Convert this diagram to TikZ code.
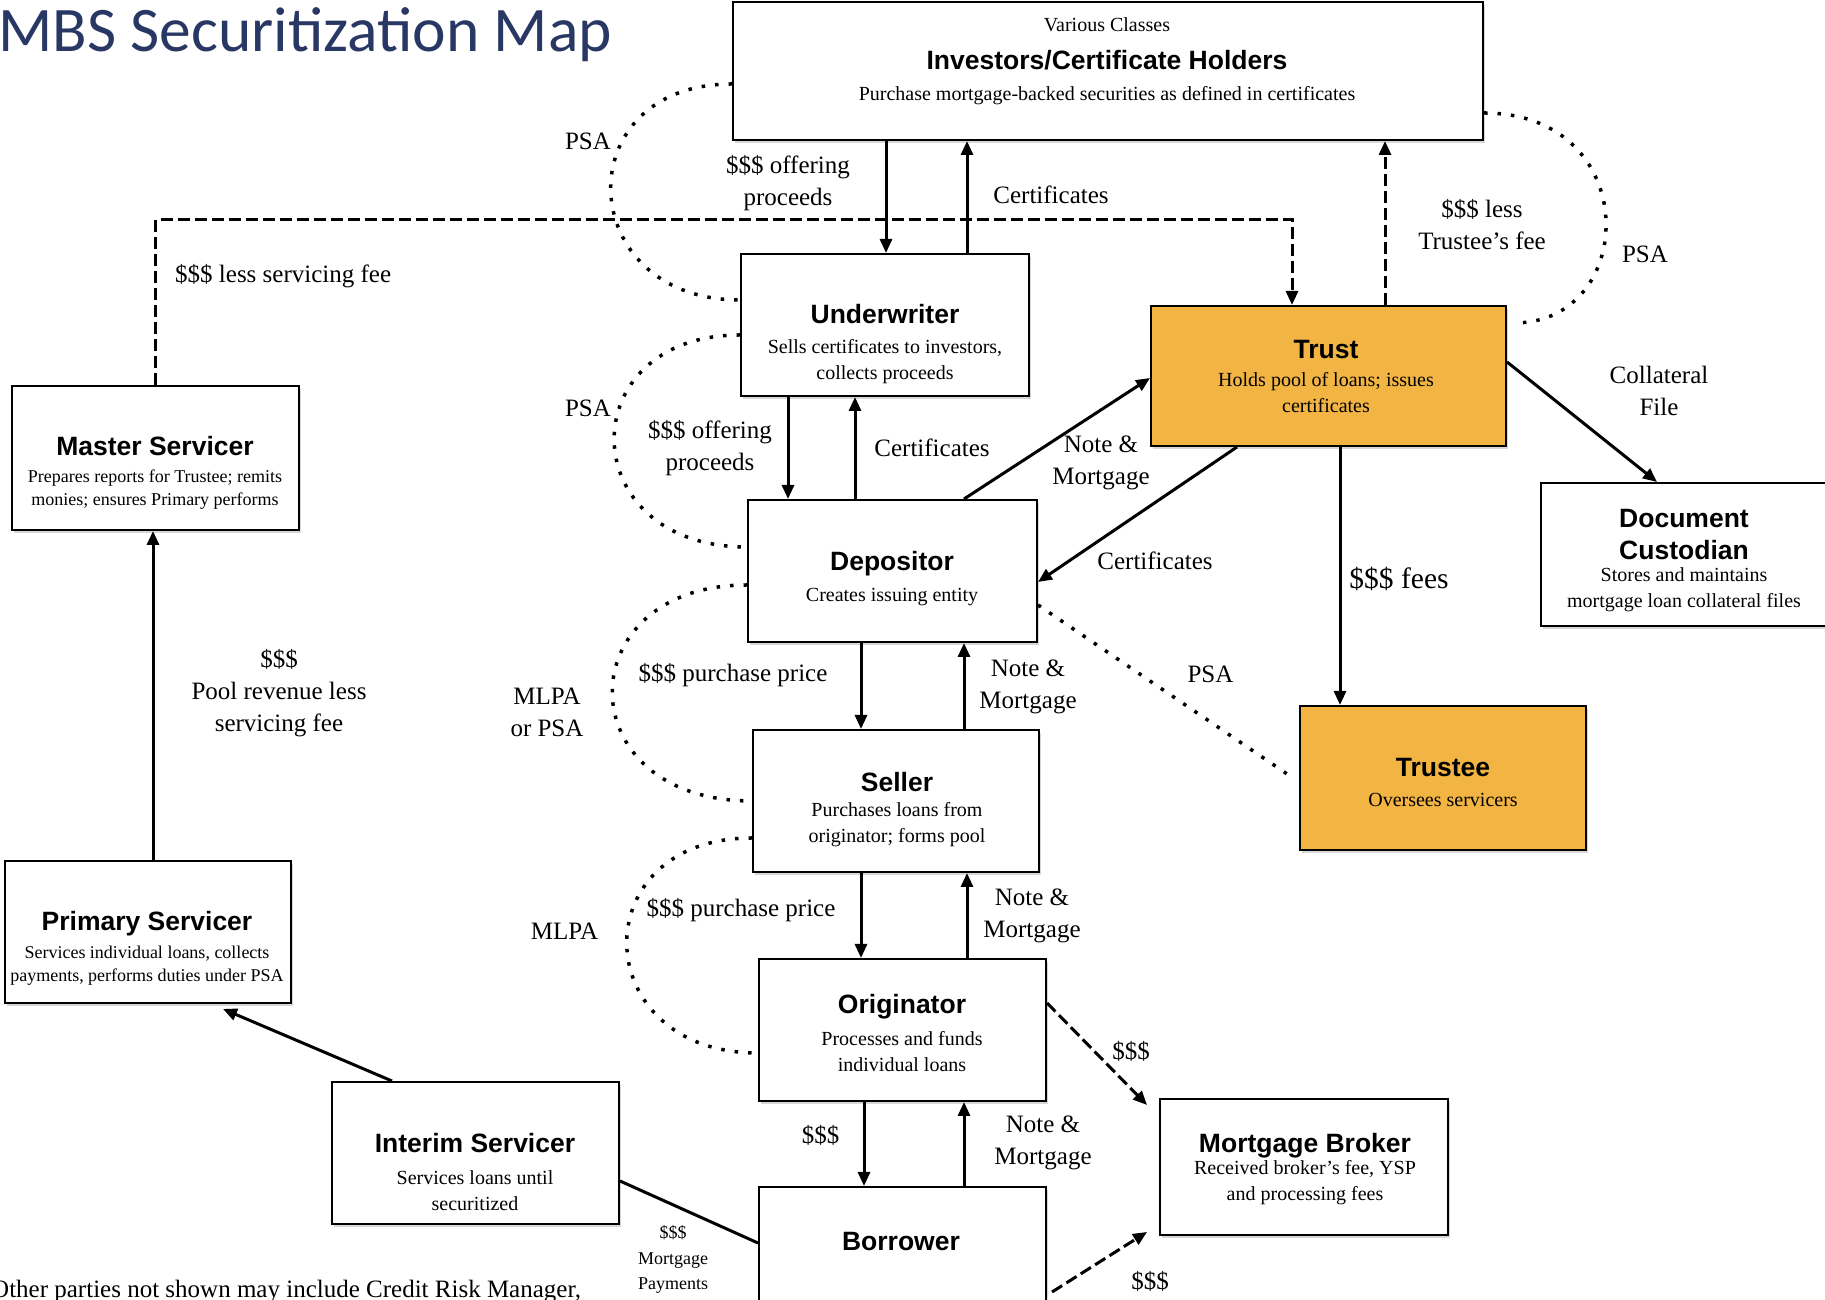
\documentclass[tikz,border=0pt]{standalone}
\usepackage{fontspec}
\setmainfont{Liberation Serif}
\newfontfamily\headfamily{Liberation Sans}
\newfontfamily\mapfamily{Carlito}
\usepackage{tikz}
\usetikzlibrary{arrows.meta}
\usetikzlibrary{shadows}

\definecolor{mapnavy}{RGB}{40,55,100}
\definecolor{poolgold}{RGB}{242,180,66}

\newcommand{\partyfont}{\headfamily\bfseries\fontsize{26.5}{32}\selectfont}
\newcommand{\notefont}{\fontsize{20}{26}\selectfont}
\newcommand{\smallnotefont}{\fontsize{18}{23.5}\selectfont}
\newcommand{\flowfont}{\fontsize{25}{32}\selectfont}
\newcommand{\bigflowfont}{\fontsize{29.5}{34}\selectfont}
\newcommand{\paymentfont}{\fontsize{18}{25.5}\selectfont}
\newcommand{\mapfont}{\mapfamily\fontsize{63.5}{70}\selectfont}

\tikzset{
    party/.style={
        rectangle, draw=black, line width=2pt, fill=white,
        drop shadow={shadow xshift=2pt, shadow yshift=-3pt, fill=black!45, opacity=.35},
    },
    pool/.style={party, fill=poolgold},
    partytext/.style={anchor=north, inner sep=0pt, align=center, font=\notefont},
    flowlabel/.style={inner sep=0pt, align=center, font=\flowfont},
    flow/.style={line width=3pt, -{Triangle[length=14pt,width=12pt]}},
    cash/.style={flow, dash pattern=on 12pt off 5pt},
    pact/.style={line width=3.5pt, dash pattern=on 3.5pt off 10pt},
}

\begin{document}
\begin{tikzpicture}[x=1pt, y=1pt]
        \useasboundingbox (0,0) rectangle (1825,1300);

        \node (inv) at(1108,1229) [
            party,
            minimum width=750pt, minimum height=138pt,
        ] {};
        \node (uw) at(885,975) [
            party,
            minimum width=288pt, minimum height=142pt,
        ] {};
        \node (trust) at(1328.5,924) [
            pool,
            minimum width=355pt, minimum height=140pt,
        ] {};
        \node (ms) at(155.5,842) [
            party,
            minimum width=287pt, minimum height=144pt,
        ] {};
        \node (dep) at(892.5,729) [
            party,
            minimum width=289pt, minimum height=142pt,
        ] {};
        \node (dc) at(1685,745.5) [
            party,
            minimum width=288pt, minimum height=143pt,
        ] {};
        \node (sel) at(896,499) [
            party,
            minimum width=286pt, minimum height=142pt,
        ] {};
        \node (trustee) at(1443,522) [
            pool,
            minimum width=286pt, minimum height=144pt,
        ] {};
        \node (ps) at(148,368) [
            party,
            minimum width=286pt, minimum height=142pt,
        ] {};
        \node (orig) at(902.5,270) [
            party,
            minimum width=287pt, minimum height=142pt,
        ] {};
        \node (is) at(475.5,147) [
            party,
            minimum width=287pt, minimum height=142pt,
        ] {};
        \node (mb) at(1304,133) [
            party,
            minimum width=288pt, minimum height=136pt,
        ] {};
        \node (bor) at(902.5,42) [
            party,
            minimum width=287pt, minimum height=142pt,
        ] {};

        \node (invtext) at(1107,1282.5) [partytext] {Various Classes\\[12pt]{\partyfont Investors/Certificate Holders}\\[5pt]Purchase mortgage-backed securities as defined in certificates};
        \node (uwtext) at(885,995.5) [partytext] {{\partyfont Underwriter}\\[4pt]Sells certificates to investors,\\collects proceeds};
        \node (trusttext) at(1326,959.5) [partytext] {{\partyfont Trust}\\[2pt]Holds pool of loans; issues\\certificates};
        \node (mstext) at(155,863.5) [partytext, font=\smallnotefont] {{\partyfont Master Servicer}\\[3pt]Prepares reports for Trustee; remits\\monies; ensures Primary performs};
        \node (deptext) at(892,748.5) [partytext] {{\partyfont Depositor}\\[5pt]Creates issuing entity};
        \node (dctext) at(1684,790.5) [partytext] {{\partyfont Document}\\[6pt]{\partyfont Custodian}\\[-4pt]Stores and maintains\\mortgage loan collateral files};
        \node (seltext) at(897,527.5) [partytext] {{\partyfont Seller}\\[-1pt]Purchases loans from\\originator; forms pool};
        \node (trusteetext) at(1443,541.5) [partytext] {{\partyfont Trustee}\\[4pt]Oversees servicers};
        \node (pstext) at(147,388.5) [partytext, font=\smallnotefont] {{\partyfont Primary Servicer}\\[4pt]Services individual loans, collects\\payments, performs duties under PSA};
        \node (origtext) at(902,305.5) [partytext] {{\partyfont Originator}\\[6pt]Processes and funds\\individual loans};
        \node (istext) at(475,166.5) [partytext] {{\partyfont Interim Servicer}\\[6pt]Services loans until\\securitized};
        \node (mbtext) at(1305,166.5) [partytext] {{\partyfont Mortgage Broker}\\[-4pt]Received broker’s fee, YSP\\and processing fees};
        \node (bortext) at(901,67.5) [partytext] {{\partyfont Borrower}};

        \node (maptitle) at(-2,1248) [anchor=base west, inner sep=0pt, font=\mapfont, text=mapnavy] {MBS Securitization Map};
        \node (othernote) at(-9,2) [anchor=base west, inner sep=0pt, font=\flowfont] {Other parties not shown may include Credit Risk Manager,};

        \draw[pact] ([yshift=-13pt]inv.west) .. controls +(-167,0) and +(-167,0) .. ([yshift=25pt]uw.west);
        \draw[pact] ([yshift=-42pt]inv.east) .. controls +(160,0) and +(125,0) .. ([xshift=7pt,yshift=-18pt]trust.north east);
        \draw[pact] ([yshift=-10pt]uw.west) .. controls +(-170,0) and +(-175,0) .. ([yshift=24pt]dep.west);
        \draw[pact] ([yshift=-14pt]dep.west) .. controls +(-180,0) and +(-186,0) .. (sel.west);
        \draw[pact] ([yshift=-37pt]sel.west) .. controls +(-171,0) and +(-171,0) .. ([yshift=-23pt]orig.west);
        \draw[pact] ([yshift=-34pt]dep.east) -- ([xshift=-6pt]trustee.west);

        \draw[flow] ([xshift=-222pt]inv.south) -- ([xshift=1pt]uw.north);
        \draw[flow] ([xshift=82pt]uw.north) -- ([xshift=-141pt]inv.south);
        \draw[cash] (ms.north) |- ([xshift=-36.5pt,yshift=85pt]trust.north) -- ([xshift=-36.5pt]trust.north);
        \draw[cash] ([xshift=56.5pt]trust.north) -- ([xshift=277pt]inv.south);
        \draw[flow] ([xshift=-97pt]uw.south) -- ([xshift=-104.5pt]dep.north);
        \draw[flow] ([xshift=-37.5pt]dep.north) -- ([xshift=-30pt]uw.south);
        \draw[flow] ([xshift=71.5pt]dep.north) -- ([yshift=-2pt]trust.west);
        \draw[flow] ([xshift=-91.5pt]trust.south) -- ([yshift=-11pt]dep.east);
        \draw[flow] ([yshift=14pt]trust.east) -- ([xshift=-28pt]dc.north);
        \draw[flow] ([xshift=11.5pt]trust.south) -- ([xshift=-103pt]trustee.north);
        \draw[flow] ([xshift=-31.5pt]dep.south) -- ([xshift=-35pt]sel.north);
        \draw[flow] ([xshift=68pt]sel.north) -- ([xshift=71.5pt]dep.south);
        \draw[flow] ([xshift=-35pt]sel.south) -- ([xshift=-41.5pt]orig.north);
        \draw[flow] ([xshift=64.5pt]orig.north) -- ([xshift=71pt]sel.south);
        \draw[flow] ([xshift=-38.5pt]orig.south) -- ([xshift=-38.5pt]bor.north);
        \draw[flow] ([xshift=61.5pt]bor.north) -- ([xshift=61.5pt]orig.south);
        \draw[cash] ([yshift=27pt]orig.east) -- ([xshift=-12pt,yshift=-7pt]mb.north west);
        \draw[cash] ([xshift=5pt,yshift=-34pt]bor.east) -- ([xshift=-12pt,yshift=4pt]mb.south west);
        \draw[line width=3pt] ([yshift=-28pt]is.east) -- ([yshift=15pt]bor.west);
        \draw[flow] ([xshift=-83.5pt]is.north) -- ([xshift=75pt,yshift=-5pt]ps.south);
        \draw[flow] ([xshift=5pt]ps.north) -- ([xshift=-2.5pt]ms.south);

        \node (offer1) at(788,1117) [flowlabel] {\$\$\$ offering\\proceeds};
        \node (cert1) at(1051,1105.6) [flowlabel] {Certificates};
        \node (svcfee) at(175,1024) [flowlabel, anchor=west] {\$\$\$ less servicing fee};
        \node (trfee) at(1482,1075) [flowlabel] {\$\$\$ less\\Trustee’s fee};
        \node (psa1) at(1645,1046) [flowlabel] {PSA};
        \node (psa2) at(588,1159) [flowlabel] {PSA};
        \node (offer2) at(710,852) [flowlabel] {\$\$\$ offering\\proceeds};
        \node (cert2) at(932,852) [flowlabel] {Certificates};
        \node (psa3) at(588,891.5) [flowlabel] {PSA};
        \node (note1) at(1101,837.5) [flowlabel] {Note \&\\Mortgage};
        \node (cert3) at(1155,739) [flowlabel] {Certificates};
        \node (collat) at(1659,909.5) [flowlabel] {Collateral\\File};
        \node (fees) at(1399,721.5) [flowlabel, font=\bigflowfont] {\$\$\$ fees};
        \node (psa4) at(1210.5,626) [flowlabel] {PSA};
        \node (price1) at(733,625) [flowlabel] {\$\$\$ purchase price};
        \node (note2) at(1028,613.5) [flowlabel] {Note \&\\Mortgage};
        \node (mlpa1) at(547,587.5) [flowlabel] {MLPA\\or PSA};
        \node (price2) at(741,390) [flowlabel] {\$\$\$ purchase price};
        \node (note3) at(1032,384) [flowlabel] {Note \&\\Mortgage};
        \node (mlpa2) at(564.5,369) [flowlabel] {MLPA};
        \node (loan) at(820.5,165) [flowlabel] {\$\$\$};
        \node (note4) at(1043,157) [flowlabel] {Note \&\\Mortgage};
        \node (brokerfee1) at(1131,249) [flowlabel] {\$\$\$};
        \node (brokerfee2) at(1150,18.5) [flowlabel] {\$\$\$};
        \node (payments) at(673,40.5) [flowlabel, font=\paymentfont] {\$\$\$\\Mortgage\\Payments};
        \node (pool) at(279,606.5) [flowlabel] {\$\$\$\\Pool revenue less\\servicing fee};
\end{tikzpicture}
\end{document}
